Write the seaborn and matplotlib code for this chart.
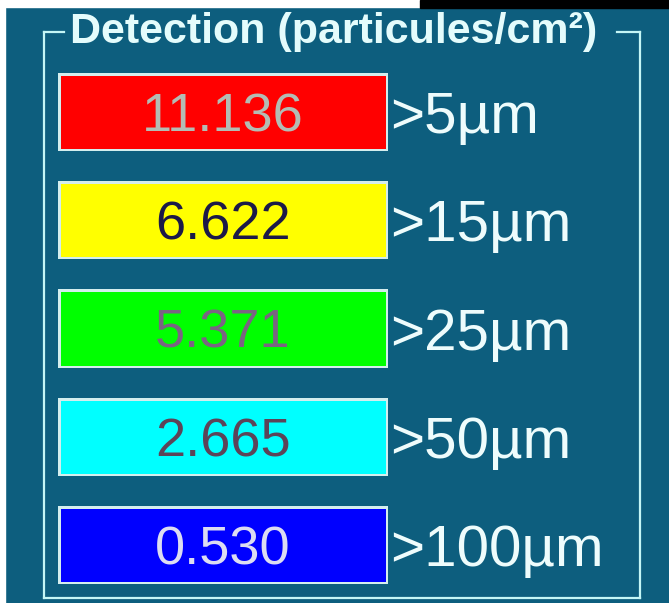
import matplotlib
matplotlib.use("Agg")
import matplotlib.pyplot as plt
from matplotlib.colors import ListedColormap
from matplotlib.lines import Line2D
from matplotlib.patches import Rectangle
import numpy as np
import seaborn as sns

# particle size thresholds and detected counts (particules/cm²)
sizes = [">5µm", ">15µm", ">25µm", ">50µm", ">100µm"]
counts = [11.136, 6.622, 5.371, 2.665, 0.530]
box_colors = ["#ff0000", "#ffff00", "#00ff00", "#00ffff", "#0000ff"]
value_colors = ["#b4bcb4", "#1c1a48", "#7a6482", "#5c4458", "#dcdcf2"]
title = "Detection (particules/cm²)"

BG = "#0d5e7e"
EDGE = "#d4eeee"
FRAME = "#c4f6f6"
W, H = 669, 603

plt.rcParams["font.family"] = ["Liberation Sans", "DejaVu Sans"]


def fx(px):
    return px / W


def fy(py):
    return 1 - py / H


fig = plt.figure(figsize=(W / 100, H / 100), dpi=100, facecolor=BG)

# screenshot edges
fig.patches.append(Rectangle((0, fy(7)), fx(420), 7 / H, transform=fig.transFigure,
                             color="white", zorder=5))
fig.patches.append(Rectangle((fx(420), fy(8)), 1 - fx(420), 8 / H, transform=fig.transFigure,
                             color="black", zorder=5))
fig.patches.append(Rectangle((0, 0), fx(5), 1, transform=fig.transFigure,
                             color="white", zorder=5))

gap_pt = 29.8 * 0.72
border_pt = 2.6 * 0.72
ax = fig.add_axes([fx(43.1), fy(598.9), fx(402.9) - fx(43.1), (598.9 - 58.1) / H])
ax.set_facecolor(BG)

grid = np.arange(len(counts)).reshape(-1, 1)
annot = np.array([f"{v:.3f}" for v in counts]).reshape(-1, 1)

# coloured readouts with a light bevel
sns.heatmap(grid, ax=ax, cmap=ListedColormap(box_colors), cbar=False,
            annot=annot, fmt="", annot_kws={"fontsize": 39},
            linewidths=gap_pt + 2 * border_pt, linecolor=EDGE,
            xticklabels=False, yticklabels=sizes)
# teal gaps between readouts
sns.heatmap(np.zeros_like(grid), ax=ax, cmap=ListedColormap([(0, 0, 0, 0)]), cbar=False,
            linewidths=gap_pt, linecolor=BG, xticklabels=False, yticklabels=sizes)

for txt, c in zip(ax.texts, value_colors):
    txt.set_color(c)
    txt.set_va("center_baseline")

ax.yaxis.tick_right()
ax.tick_params(axis="y", length=0, pad=-9.4, labelsize=42, labelcolor="#eefcfc",
               labelrotation=0)
for lab in ax.get_yticklabels():
    lab.set_horizontalalignment("left")

# group frame, open at the top for the title
frame = [
    ([44, 64], [32, 32]),
    ([617, 640], [32, 32]),
    ([44, 44], [32, 598]),
    ([640, 640], [32, 598]),
    ([44, 640], [598, 598]),
]
for xs, ys in frame:
    fig.add_artist(Line2D([fx(x) for x in xs], [fy(y) for y in ys],
                          color=FRAME, lw=1.6, zorder=4))

fig.text(fx(70), fy(43), title, color="#e4fcfc", fontsize=31, fontweight="bold",
         ha="left", va="baseline")

fig.savefig("out.png", dpi=100, facecolor=BG)
